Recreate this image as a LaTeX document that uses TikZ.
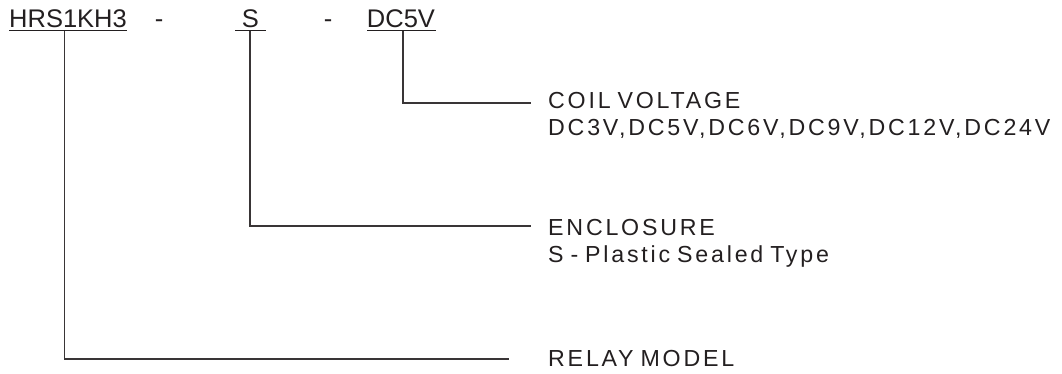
\documentclass[tikz,border=0pt]{standalone}
\usepackage{fontspec}
\setmainfont{Liberation Sans}
\newfontfamily\spacedfont[LetterSpace=12,WordSpace={0.75}]{Liberation Sans}
\definecolor{ink}{HTML}{231F20}
\begin{document}
\begin{tikzpicture}[x=1pt,y=-1pt,
  top/.style={inner sep=0pt,anchor=base,font=\fontsize{25.5}{25.5}\selectfont,text=ink},
  lbl/.style={inner sep=0pt,anchor=base west,font=\spacedfont\fontsize{23.2}{23.2}\selectfont,text=ink},
  leader/.style={draw=ink!90,line width=1.7pt},
  uline/.style={draw=ink,line width=1.5pt}]
\useasboundingbox (0,0) rectangle (1062,373);
% top code
\node[top] (p1) at (68,27.5) {HRS1KH3};
\node[top] (d1) at (159,27.5) {-};
\node[top] (p2) at (250.5,27.5) {S};
\node[top] (d2) at (328,27.5) {-};
\node[top] (p3) at (401,27.5) {DC5V};
% underlines
\coordinate (u1a) at (9,30.7); \coordinate (u1b) at (127,30.7);
\coordinate (u2a) at (235,30.7); \coordinate (u2b) at (266,30.7);
\coordinate (u3a) at (367,30.7); \coordinate (u3b) at (436,30.7);
\draw[uline] (u1a) -- (u1b);
\draw[uline] (u2a) -- (u2b);
\draw[uline] (u3a) -- (u3b);
% labels
\node[lbl] (coil) at (548,108) {COIL VOLTAGE};
\node[lbl] (coilv) at (548,135) {DC3V,DC5V,DC6V,DC9V,DC12V,DC24V};
\node[lbl] (encl) at (548,235) {ENCLOSURE};
\node[lbl] (enclv) at (548,262.5) {S - Plastic Sealed Type};
\node[lbl] (relay) at (548,366.5) {RELAY MODEL};
% leader ends
\coordinate (s1) at (64.5,30.7); \coordinate (e1) at (509,358.7);
\coordinate (s2) at (250,30.7); \coordinate (e2) at (530.5,226);
\coordinate (s3) at (403,30.7); \coordinate (e3) at (531,103);
\draw[leader] (s1) |- (e1);
\draw[leader] (s2) |- (e2);
\draw[leader] (s3) |- (e3);
\end{tikzpicture}
\end{document}
